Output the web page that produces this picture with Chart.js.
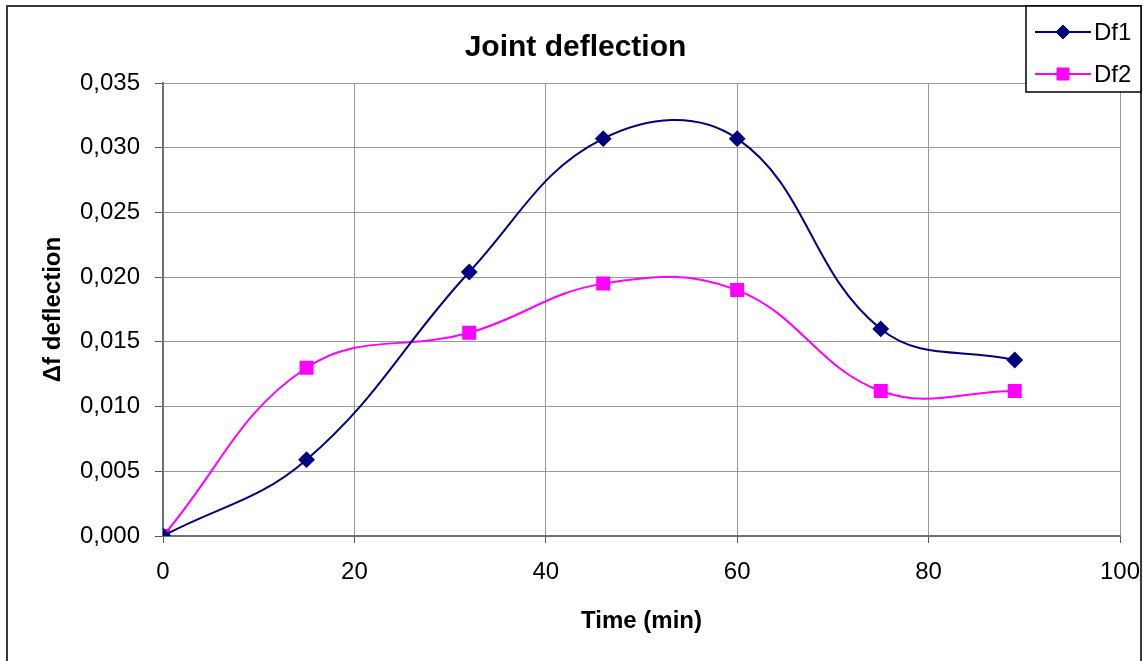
<!DOCTYPE html>
<html>
<head>
<meta charset="utf-8">
<script src="https://cdn.jsdelivr.net/npm/chart.js@4"></script>
<style>
  body { margin: 0; background: #ffffff; }
  canvas { display: block; }
</style>
</head>
<body>
<canvas id="deflection" width="1143" height="661"></canvas>
<script>
// measured joint deflection over time
var time_min = [0, 15, 32, 46, 60, 75, 89];
var df1 = [0, 0.0059, 0.0204, 0.0307, 0.0307, 0.0160, 0.0136];
var df2 = [0, 0.0130, 0.0157, 0.0195, 0.0190, 0.0112, 0.0112];

var x_ticks = [0, 20, 40, 60, 80, 100];
var y_ticks = [0, 0.005, 0.010, 0.015, 0.020, 0.025, 0.030, 0.035];

var font_family = "'Liberation Sans', Arial, sans-serif";

function to_points(xs, ys) {
  var pts = [];
  for (var i = 0; i < xs.length; i++) {
    pts.push({ x: xs[i], y: ys[i] });
  }
  return pts;
}

// outer frame + boxed legend in the top right corner
var frame_and_legend = {
  id: "frame_and_legend",
  afterDraw: function (chart) {
    var ctx = chart.ctx;
    ctx.save();
    ctx.strokeStyle = "#3a3a3a";
    ctx.lineWidth = 2;
    ctx.strokeRect(7, 6, 1134, 700);

    // legend box
    var bx = 1026, by = 6, bw = 115, bh = 86;
    ctx.fillStyle = "#ffffff";
    ctx.fillRect(bx, by, bw, bh);
    ctx.strokeStyle = "#000000";
    ctx.lineWidth = 1.5;
    ctx.strokeRect(bx, by, bw, bh);

    var rows = [32, 74];
    chart.data.datasets.forEach(function (ds, i) {
      var y = rows[i];
      ctx.strokeStyle = ds.borderColor;
      ctx.lineWidth = ds.borderWidth;
      ctx.beginPath();
      ctx.moveTo(1035, y);
      ctx.lineTo(1091, y);
      ctx.stroke();
      ctx.fillStyle = ds.pointBackgroundColor;
      ctx.strokeStyle = ds.pointBorderColor;
      ctx.lineWidth = 1;
      Chart.helpers.drawPoint(ctx, {
        pointStyle: ds.pointStyle,
        radius: ds.pointRadius,
        rotation: 0,
        borderWidth: 1
      }, 1063, y);
      ctx.fillStyle = "#000000";
      ctx.font = "24px " + font_family;
      ctx.textAlign = "left";
      ctx.textBaseline = "middle";
      ctx.fillText(ds.label, 1094, y + 1);
    });
    ctx.restore();
  }
};

var ctx = document.getElementById("deflection").getContext("2d");
var chart = new Chart(ctx, {
  type: "line",
  data: {
    datasets: [{
      label: "Df1",
      data: to_points(time_min, df1),
      borderColor: "#000080",
      borderWidth: 2,
      pointStyle: "rectRot",
      pointRadius: 7,
      pointBackgroundColor: "#000080",
      pointBorderColor: "#000080",
      tension: 0.4,
    }, {
      label: "Df2",
      data: to_points(time_min, df2),
      borderColor: "#ff00ff",
      borderWidth: 2,
      pointStyle: "rect",
      pointRadius: 8.5,
      pointBackgroundColor: "#ff00ff",
      pointBorderColor: "#ff00ff",
      tension: 0.4,
    }]
  },
  options: {
    responsive: false,
    animation: false,
    layout: {
      padding: { top: 0, left: 8, right: 0, bottom: 0 }
    },
    scales: {
      x: {
        type: "linear",
        min: 0,
        max: 100,
        afterBuildTicks: function (scale) {
          scale.ticks = x_ticks.map(function (v) { return { value: v }; });
        },
        afterFit: function (scale) {
          scale.height = 125;
          // keep the plot's right edge fixed, "100" hangs past it a little
          scale.paddingLeft = 0;
          scale.paddingRight = 23;
        },
        grid: {
          color: "#999999",
          lineWidth: 1,
          tickLength: 7,
          tickColor: "#555555"
        },
        border: { color: "#707070", width: 2 },
        ticks: {
          color: "#000000",
          padding: 15,
          maxRotation: 0,
          font: { family: font_family, size: 24 }
        },
        title: {
          display: true,
          text: "Time (min)",
          color: "#000000",
          padding: { top: 0, bottom: 25 },
          font: { family: font_family, size: 24, weight: "bold" }
        }
      },
      y: {
        min: 0,
        max: 0.035,
        afterBuildTicks: function (scale) {
          scale.ticks = y_ticks.map(function (v) { return { value: v }; });
        },
        afterFit: function (scale) {
          scale.width = 155;
        },
        grid: {
          color: "#999999",
          lineWidth: 1,
          tickLength: 8,
          tickColor: "#555555"
        },
        border: { color: "#707070", width: 2 },
        ticks: {
          color: "#000000",
          padding: 15,
          font: { family: font_family, size: 24 },
          callback: function (value) {
            return value.toFixed(3).replace(".", ",");
          }
        },
        title: {
          display: true,
          text: "\u0394f deflection",
          color: "#000000",
          padding: { top: 31, bottom: 0 },
          font: { family: font_family, size: 24, weight: "bold" }
        }
      }
    },
    plugins: {
      legend: { display: false },
      tooltip: { enabled: false },
      title: {
        display: true,
        text: "Joint deflection",
        color: "#000000",
        padding: { top: 30, bottom: 17 },
        font: { family: font_family, size: 30, weight: "bold" }
      }
    }
  },
  plugins: [frame_and_legend]
});
</script>
</body>
</html>
